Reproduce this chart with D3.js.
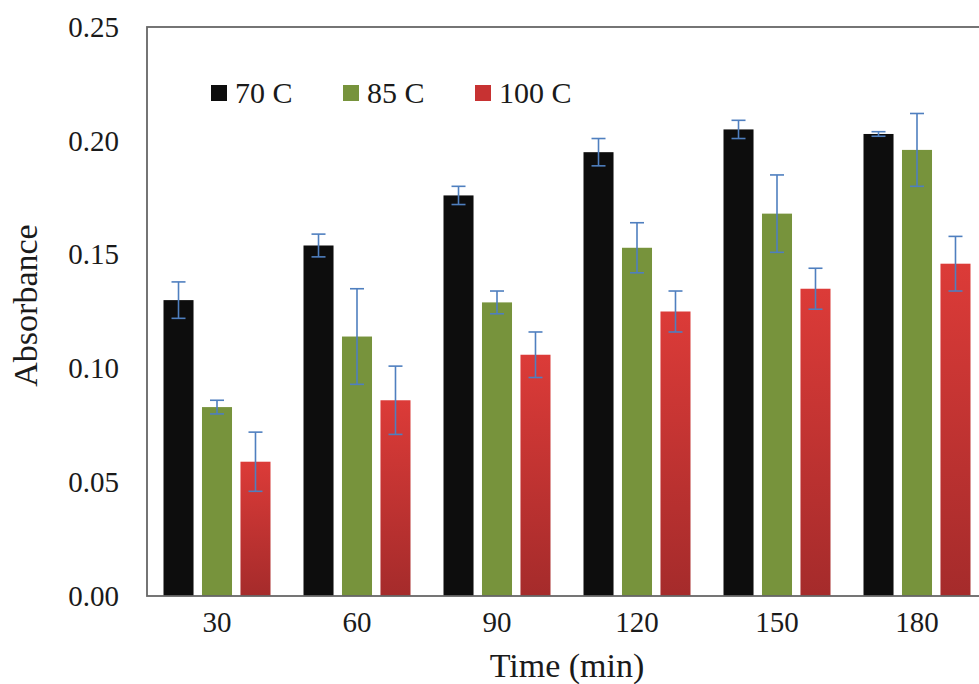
<!DOCTYPE html>
<html>
<head>
<meta charset="utf-8">
<script src="https://cdn.jsdelivr.net/npm/d3@7"></script>
<style>
  body { margin: 0; background: #fff; }
  text { font-family: "Liberation Serif", "Times New Roman", serif; fill: #1a1a1a; }
</style>
</head>
<body>
<div class="canvas"></div>
<script>
// data
const times = ['30', '60', '90', '120', '150', '180'];
const seriesNames = ['70 C', '85 C', '100 C'];
const abs70 = [0.130, 0.154, 0.176, 0.195, 0.205, 0.203];
const abs85 = [0.083, 0.114, 0.129, 0.153, 0.168, 0.196];
const abs100 = [0.059, 0.086, 0.106, 0.125, 0.135, 0.146];
const err70 = [0.008, 0.005, 0.004, 0.006, 0.004, 0.001];
const err85 = [0.003, 0.021, 0.005, 0.011, 0.017, 0.016];
const err100 = [0.013, 0.015, 0.010, 0.009, 0.009, 0.012];
const yTicks = [0, 0.05, 0.10, 0.15, 0.20, 0.25];

const WIDTH = 979, HEIGHT = 684;
const MARGIN = { left: 147, top: 27, right: -8, bottom: 88 };
const GRAPH_WIDTH = WIDTH - MARGIN.left - MARGIN.right;
const GRAPH_HEIGHT = HEIGHT - MARGIN.top - MARGIN.bottom;

const rows = times.map((t, i) => ({
  time: t,
  bars: [
    { name: seriesNames[0], v: abs70[i], e: err70[i] },
    { name: seriesNames[1], v: abs85[i], e: err85[i] },
    { name: seriesNames[2], v: abs100[i], e: err100[i] }
  ]
}));

const svg = d3.select('.canvas').append('svg')
  .attr('width', WIDTH)
  .attr('height', HEIGHT);

// red bars have a light-to-dark fill
const defs = svg.append('defs');
const grad = defs.append('linearGradient')
  .attr('id', 'redFill')
  .attr('x1', 0).attr('y1', 0).attr('x2', 0).attr('y2', 1);
grad.append('stop').attr('offset', '0%').attr('stop-color', '#dc3b38');
grad.append('stop').attr('offset', '100%').attr('stop-color', '#a52b2b');

const fills = { '70 C': '#0d0d0d', '85 C': '#77933c', '100 C': 'url(#redFill)' };
const swatch = { '70 C': '#0d0d0d', '85 C': '#77933c', '100 C': '#c73232' };

const graph = svg.append('g')
  .attr('transform', `translate(${MARGIN.left}, ${MARGIN.top})`);

//scales
const x0 = d3.scaleBand().domain(times).range([0, GRAPH_WIDTH]);
const x1 = d3.scaleBand().domain(seriesNames)
  .range([16.5, x0.bandwidth() - 16.5])
  .paddingInner(0.22);
const y = d3.scaleLinear().domain([0, 0.25]).range([GRAPH_HEIGHT, 0]);

//axes
const yAxisGroup = graph.append('g')
  .call(d3.axisLeft(y).tickValues(yTicks).tickFormat(d3.format('.2f')).tickSize(0).tickPadding(28));
const xAxisGroup = graph.append('g')
  .attr('transform', `translate(0, ${GRAPH_HEIGHT})`)
  .call(d3.axisBottom(x0).tickSize(0).tickPadding(15));
graph.selectAll('.domain').remove();
graph.selectAll('.tick text').style('font-size', '29px').attr('fill', '#1a1a1a');

//bars
const groups = graph.selectAll('g.group')
  .data(rows)
  .enter().append('g')
  .attr('class', 'group')
  .attr('transform', d => `translate(${x0(d.time)}, 0)`);

groups.selectAll('rect')
  .data(d => d.bars)
  .enter().append('rect')
  .attr('x', d => x1(d.name))
  .attr('y', d => y(d.v))
  .attr('width', x1.bandwidth())
  .attr('height', d => y(0) - y(d.v))
  .attr('fill', d => fills[d.name]);

//error bars
const errs = groups.selectAll('g.err')
  .data(d => d.bars)
  .enter().append('g')
  .attr('class', 'err')
  .attr('stroke', '#4f7fbf')
  .attr('stroke-width', 1.6);
const cx = d => x1(d.name) + x1.bandwidth() / 2;
errs.append('line')
  .attr('x1', cx).attr('x2', cx)
  .attr('y1', d => y(d.v - d.e)).attr('y2', d => y(d.v + d.e));
errs.append('line')
  .attr('x1', d => cx(d) - 7).attr('x2', d => cx(d) + 7)
  .attr('y1', d => y(d.v + d.e)).attr('y2', d => y(d.v + d.e));
errs.append('line')
  .attr('x1', d => cx(d) - 7).attr('x2', d => cx(d) + 7)
  .attr('y1', d => y(d.v - d.e)).attr('y2', d => y(d.v - d.e));

//plot frame
graph.append('rect')
  .attr('x', 0).attr('y', 0)
  .attr('width', GRAPH_WIDTH).attr('height', GRAPH_HEIGHT)
  .attr('fill', 'none')
  .attr('stroke', '#666')
  .attr('stroke-width', 1.8);

//legend
const legend = graph.selectAll('g.legend')
  .data(seriesNames)
  .enter().append('g')
  .attr('class', 'legend')
  .attr('transform', (d, i) => `translate(${64 + i * 132}, 58)`);
legend.append('rect')
  .attr('width', 16).attr('height', 16)
  .attr('fill', d => swatch[d]);
legend.append('text')
  .attr('x', 24).attr('y', 18)
  .style('font-size', '30px')
  .text(d => d);

//axis titles
svg.append('text')
  .attr('x', MARGIN.left + (x0.range()[1]) / 2)
  .attr('y', 677)
  .attr('text-anchor', 'middle')
  .style('font-size', '34px')
  .text('Time (min)');
svg.append('text')
  .attr('transform', `translate(37, ${MARGIN.top + GRAPH_HEIGHT / 2 - 6}) rotate(-90)`)
  .attr('text-anchor', 'middle')
  .style('font-size', '34px')
  .text('Absorbance');
</script>
</body>
</html>
